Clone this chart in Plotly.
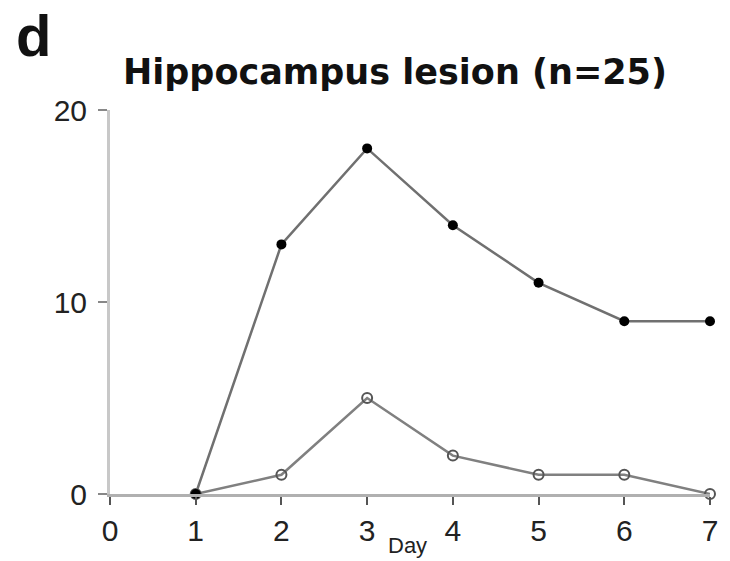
import plotly.graph_objects as go

days = [1, 2, 3, 4, 5, 6, 7]
filled_values = [0, 13, 18, 14, 11, 9, 9]
open_values = [0, 1, 5, 2, 1, 1, 0]
x_ticks = [0, 1, 2, 3, 4, 5, 6, 7]
y_ticks = [0, 10, 20]

FONT = "Liberation Sans"
TITLE_FONT = "DejaVu Sans"

fig = go.Figure()

fig.add_trace(go.Scatter(
    x=days, y=open_values, mode="lines+markers",
    line=dict(color="#808080", width=2.5),
    marker=dict(symbol="circle-open", size=10, color="#555555",
                line=dict(width=2, color="#555555")),
    cliponaxis=False, showlegend=False,
))
fig.add_trace(go.Scatter(
    x=days, y=filled_values, mode="lines+markers",
    line=dict(color="#707070", width=2.5),
    marker=dict(symbol="circle", size=10, color="#000000"),
    cliponaxis=False, showlegend=False,
))

fig.update_layout(
    width=730, height=561,
    margin=dict(l=110, r=20, t=110, b=67),
    paper_bgcolor="white", plot_bgcolor="white",
    font=dict(family=FONT, color="#1a1a1a"),
    xaxis=dict(
        range=[0, 7], tickvals=x_ticks, ticktext=[str(v) for v in x_ticks],
        ticks="outside", ticklen=8, tickwidth=2, tickcolor="#555555",
        showline=True, linecolor="#b0b0b0", linewidth=3,
        showgrid=False, zeroline=False,
        tickfont=dict(size=30, family=FONT, color="#222222"),
    ),
    yaxis=dict(
        range=[0, 20], tickvals=y_ticks, ticktext=[str(v) for v in y_ticks],
        ticks="outside", ticklen=9, tickwidth=2, tickcolor="#888888",
        ticklabelstandoff=5,
        showline=True, linecolor="#c8c8c8", linewidth=3,
        showgrid=False, zeroline=False,
        tickfont=dict(size=30, family=FONT, color="#222222"),
    ),
    annotations=[
        dict(text="<b>d</b>", x=-0.127, y=1.284, xref="paper", yref="paper",
             xanchor="center", yanchor="top", showarrow=False,
             font=dict(size=58, family=FONT, color="#111111")),
        dict(text="<b>Hippocampus lesion (n=25)</b>", x=0.475, y=1.099,
             xref="paper", yref="paper", xanchor="center", yanchor="middle",
             showarrow=False,
             font=dict(size=35, family=TITLE_FONT, color="#111111")),
        dict(text="Day", x=3.47, xref="x", y=-0.133, yref="paper",
             yanchor="middle", showarrow=False,
             font=dict(size=22, family=FONT, color="#222222")),
    ],
)

fig.write_html("out.html")
